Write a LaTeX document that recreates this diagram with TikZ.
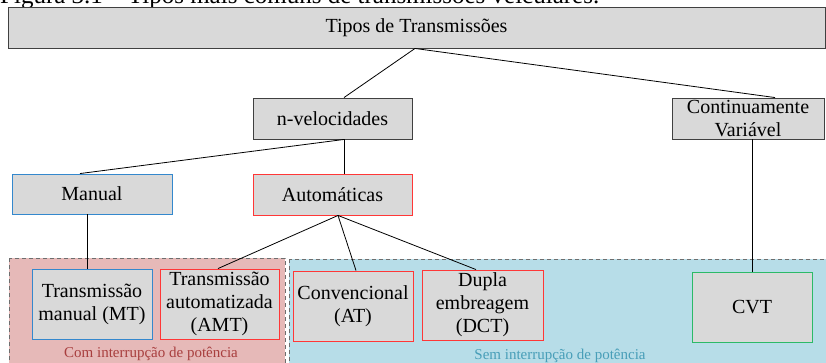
\documentclass[tikz,border=0pt]{standalone}
\usepackage{fontspec}
\setmainfont{Liberation Serif}
\usetikzlibrary{calc}
\definecolor{boxfill}{RGB}{217,217,217}
\definecolor{boxgray}{RGB}{64,64,64}
\definecolor{redline}{RGB}{255,55,55}
\definecolor{blueline}{RGB}{52,136,205}
\definecolor{greenline}{RGB}{44,186,104}
\definecolor{pinkfill}{RGB}{230,185,184}
\definecolor{cyanfill}{RGB}{183,221,232}
\definecolor{dashgray}{RGB}{110,110,110}
\definecolor{comtext}{RGB}{168,62,62}
\definecolor{semtext}{RGB}{72,158,184}
\tikzset{
  tbox/.style={draw=boxgray, fill=boxfill, line width=0.9pt, inner sep=0pt, align=center,
    font=\fontsize{20}{23}\selectfont, text=black},
  bluebox/.style={tbox, draw=blueline},
  redbox/.style={tbox, draw=redline},
  greenbox/.style={tbox, draw=greenline},
  region/.style={draw=dashgray, line width=1pt, dash pattern=on 4pt off 3pt},
  link/.style={draw=black, line width=0.8pt},
  regionlabel/.style={font=\fontsize{15}{17}\selectfont, inner sep=0pt, anchor=base}
}
\begin{document}
\begin{tikzpicture}[x=1pt,y=-1pt]
\useasboundingbox (0,0) rectangle (826,362);
% caption (cut off at the top)
\node[anchor=base west, inner sep=0pt, font=\fontsize{25}{28}\selectfont] (cap) at (0,3) {Figura 3.1 – Tipos mais comuns de transmissões veiculares.};
% regions
\path[region, fill=pinkfill] (9,258) rectangle (285,372);
\path[region, fill=cyanfill] (289,259) rectangle (832,372);
\node[regionlabel, text=comtext] (comlbl) at (151,357) {Com interrupção de potência};
\node[regionlabel, text=semtext] (semlbl) at (560,359) {Sem interrupção de potência};
% boxes
\node[tbox, minimum width=817pt, minimum height=41pt] (top) at (416.5,27.5) {Tipos de Transmissões};
\node[tbox, minimum width=159pt, minimum height=41pt] (nvel) at (332.5,118.5) {n-velocidades};
\node[tbox, minimum width=152pt, minimum height=41pt] (cont) at (748,118.5) {Continuamente\\Variável};
\node[bluebox, minimum width=160pt, minimum height=40pt] (manual) at (92,194) {Manual};
\node[redbox, minimum width=159pt, minimum height=41pt] (auto) at (332.5,194.5) {Automáticas};
\node[bluebox, minimum width=120pt, minimum height=70pt] (mt) at (92,304) {Transmissão\\manual (MT)};
\node[redbox, minimum width=119pt, minimum height=70pt] (amt) at (219.5,304) {Transmissão\\automatizada\\(AMT)};
\node[redbox, minimum width=120pt, minimum height=70pt] (at) at (353,306) {Convencional\\(AT)};
\node[redbox, minimum width=121pt, minimum height=70pt] (dct) at (482.5,305) {Dupla\\embreagem\\(DCT)};
\node[greenbox, minimum width=120pt, minimum height=70pt] (cvt) at (752,307) {CVT};
% connectors
\draw[link] ([xshift=-1.5pt]top.south) -- ([xshift=11.5pt]nvel.north);
\draw[link] ([xshift=-1.5pt]top.south) -- ([xshift=27pt]cont.north);
\draw[link] ([xshift=11.5pt]nvel.south) -- ([xshift=-12pt]manual.north);
\draw[link] ([xshift=11.5pt]nvel.south) -- ([xshift=11.5pt]auto.north);
\draw[link] ([xshift=-5pt]manual.south) -- ([xshift=-5pt]mt.north);
\draw[link] ([xshift=5.5pt]auto.south) -- ([xshift=-1.5pt]amt.north);
\draw[link] ([xshift=5.5pt]auto.south) -- ([xshift=3pt]at.north);
\draw[link] ([xshift=5.5pt]auto.south) -- ([xshift=-6.5pt]dct.north);
\draw[link] ([xshift=4pt]cont.south) -- (cvt.north);
\end{tikzpicture}
\end{document}
